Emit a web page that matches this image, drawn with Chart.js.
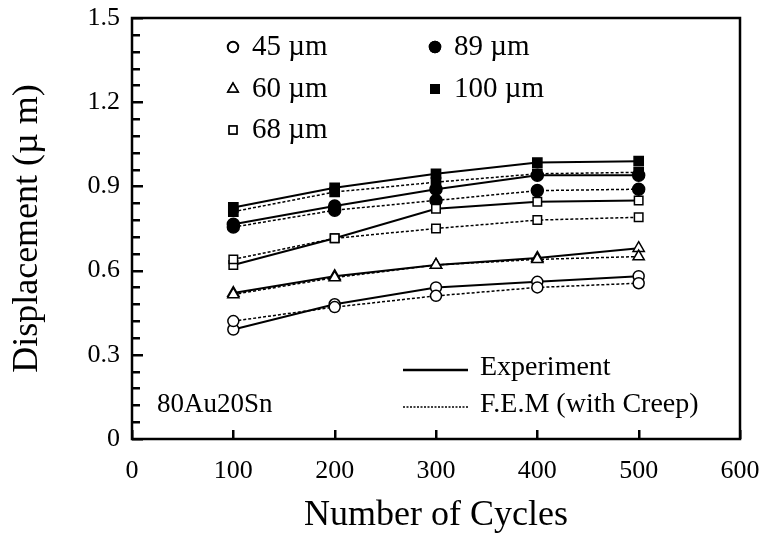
<!DOCTYPE html>
<html>
<head>
<meta charset="utf-8">
<script src="https://cdn.jsdelivr.net/npm/chart.js@4.4.0/dist/chart.umd.min.js"></script>
<style>
  html, body { margin: 0; padding: 0; background: #fff; }
  #wrap { width: 765px; height: 537px; }
</style>
</head>
<body>
<div id="wrap"><canvas id="chart" width="765" height="537"></canvas></div>
<script>
// data (displacement in µm vs number of cycles)
const cycles = [100, 200, 300, 400, 500];
const sizeLabels = ['45 µm', '60 µm', '68 µm', '89 µm', '100 µm'];
const exp45 = [0.39, 0.48, 0.54, 0.56, 0.58];
const fem45 = [0.42, 0.47, 0.51, 0.54, 0.555];
const exp60 = [0.52, 0.58, 0.62, 0.645, 0.68];
const fem60 = [0.515, 0.575, 0.62, 0.64, 0.65];
const exp68 = [0.62, 0.715, 0.82, 0.845, 0.85];
const fem68 = [0.64, 0.715, 0.75, 0.78, 0.79];
const exp89 = [0.765, 0.83, 0.89, 0.94, 0.94];
const fem89 = [0.755, 0.815, 0.85, 0.885, 0.89];
const exp100 = [0.825, 0.895, 0.945, 0.985, 0.99];
const fem100 = [0.81, 0.88, 0.915, 0.945, 0.95];
const xTickLabels = ['0', '100', '200', '300', '400', '500', '600'];
const yTickLabels = ['0', '0.3', '0.6', '0.9', '1.2', '1.5'];
const lineLabels = ['Experiment', 'F.E.M (with Creep)'];
const alloyLabel = '80Au20Sn';

const expSeries = [exp45, exp60, exp68, exp89, exp100];
const femSeries = [fem45, fem60, fem68, fem89, fem100];
const markerStyles = ['circle', 'triangle', 'rect', 'circle', 'rect'];
const markerFilled = [false, false, false, true, true];
const markerRadius = [5.5, 6.5, 6, 6, 6.5];

const FONT = "'Liberation Serif', 'Times New Roman', serif";
Chart.defaults.font.family = FONT;
Chart.defaults.color = '#000';

function pts(vals) {
    return vals.map((v, i) => ({ x: cycles[i], y: v }));
}

const datasets = [];
sizeLabels.forEach((lab, i) => {
    const marker = {
        pointStyle: markerStyles[i],
        pointRadius: markerRadius[i],
        pointBorderColor: '#000',
        pointBorderWidth: 1.5,
        pointBackgroundColor: markerFilled[i] ? '#000' : '#fff'
    };
    datasets.push(Object.assign({
        label: lab + ' ' + lineLabels[1],
        data: pts(femSeries[i]),
        borderColor: '#000',
        borderWidth: 1.5,
        borderDash: [3, 2]
    }, marker));
    datasets.push(Object.assign({
        label: lab + ' ' + lineLabels[0],
        data: pts(expSeries[i]),
        borderColor: '#000',
        borderWidth: 2
    }, marker));
});

// inward ticks, box frame and the in-plot legends
const framePlugin = {
    id: 'frame',
    afterDraw(chart) {
        const { ctx, chartArea: a } = chart;
        const xs = chart.scales.x, ys = chart.scales.y;
        ctx.save();
        ctx.setLineDash([]);
        ctx.fillStyle = '#000';
        // y ticks every 0.06, longer ones at the labelled values
        for (let k = 0; k <= 25; k++) {
            const y = Math.round(ys.getPixelForValue(k * 0.06));
            const len = k % 5 === 0 ? 11 : 8;
            ctx.fillRect(a.left, y - 1, len, 2.5);
        }
        xTickLabels.forEach(lab => {
            const x = Math.round(xs.getPixelForValue(Number(lab)));
            ctx.fillRect(x - 1, a.bottom - 9, 2.5, 9);
        });
        ctx.strokeStyle = '#000';
        ctx.lineWidth = 2.5;
        ctx.strokeRect(a.left, a.top, a.right - a.left, a.bottom - a.top);

        ctx.textBaseline = 'middle';
        ctx.textAlign = 'left';
        ctx.font = '29px ' + FONT;
        // marker legend: two columns
        const rows = [29, 71, 112];
        sizeLabels.forEach((lab, i) => {
            const col = i < 3 ? 0 : 1;
            const row = col === 0 ? i : i - 3;
            const mx = a.left + (col === 0 ? 101 : 303);
            const my = a.top + rows[row];
            const ds = chart.data.datasets[i * 2];
            Chart.helpers.drawPoint(ctx, {
                pointStyle: ds.pointStyle,
                radius: ds.pointRadius - 0.5,
                borderWidth: 1.5,
                rotation: 0
            }, mx, my);
            ctx.fillStyle = ds.pointBackgroundColor;
            ctx.strokeStyle = '#000';
            ctx.lineWidth = 1.5;
            ctx.fill();
            ctx.stroke();
            ctx.fillStyle = '#000';
            ctx.fillText(lab, mx + 19, my);
        });
        // line legend
        ctx.font = '28px ' + FONT;
        const lx0 = a.left + 271, lx1 = a.left + 336;
        const ly = [a.bottom - 69, a.bottom - 32];
        ctx.strokeStyle = '#000';
        ctx.lineWidth = 2.5;
        ctx.beginPath();
        ctx.moveTo(lx0, ly[0]);
        ctx.lineTo(lx1, ly[0]);
        ctx.stroke();
        ctx.lineWidth = 1.5;
        ctx.setLineDash([2, 1.5]);
        ctx.beginPath();
        ctx.moveTo(lx0, ly[1]);
        ctx.lineTo(lx1, ly[1]);
        ctx.stroke();
        ctx.setLineDash([]);
        ctx.fillText(lineLabels[0], lx1 + 12, ly[0] - 2);
        ctx.fillText(lineLabels[1], lx1 + 12, ly[1] - 2);
        // alloy label
        ctx.font = '27px ' + FONT;
        ctx.fillText(alloyLabel, a.left + 25, a.bottom - 34);
        ctx.restore();
    }
};

new Chart(document.getElementById('chart'), {
    type: 'line',
    data: { datasets },
    plugins: [framePlugin],
    options: {
        responsive: false,
        animation: false,
        layout: { padding: { top: 18, right: 25, left: 0, bottom: 0 } },
        plugins: { legend: { display: false }, tooltip: { enabled: false } },
        scales: {
            x: {
                type: 'linear',
                min: 0,
                max: 600,
                grid: { display: false, drawTicks: false },
                border: { display: false },
                ticks: {
                    stepSize: 100,
                    padding: 17,
                    font: { size: 26 },
                    callback: (v) => xTickLabels[Math.round(v / 100)]
                },
                title: {
                    display: true,
                    text: 'Number of Cycles',
                    font: { size: 36 },
                    padding: { top: 0, bottom: 0 }
                },
                afterFit: (s) => {
                    s.height = 98;
                    s.paddingLeft = 0;
                    s.paddingRight = 0;
                }
            },
            y: {
                min: 0,
                max: 1.5,
                grid: { display: false, drawTicks: false },
                border: { display: false },
                ticks: {
                    stepSize: 0.3,
                    padding: 12,
                    font: { size: 26 },
                    callback: (v) => yTickLabels[Math.round(v / 0.3)]
                },
                title: {
                    display: true,
                    text: 'Displacement (µ m)',
                    font: { size: 36 },
                    padding: { top: 6, bottom: 0 }
                },
                afterFit: (s) => {
                    s.width = 132;
                    s.paddingTop = 0;
                    s.paddingBottom = 0;
                }
            }
        }
    }
});
</script>
</body>
</html>
